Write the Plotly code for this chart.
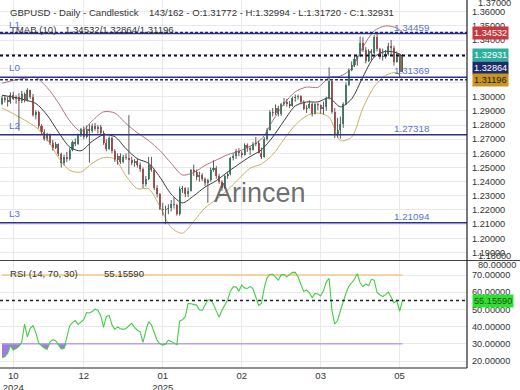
import plotly.graph_objects as go

# ---------------- data ----------------
opens = [1.2950, 1.2990, 1.2975, 1.2960, 1.3015, 1.2985, 1.2995, 1.2970, 1.3020, 1.2975,
         1.3045, 1.3000, 1.2870, 1.2890, 1.2790, 1.2750, 1.2700, 1.2730, 1.2670, 1.2640,
         1.2665, 1.2595, 1.2530, 1.2575, 1.2560, 1.2625, 1.2680, 1.2665, 1.2730, 1.2770,
         1.2715, 1.2775, 1.2760, 1.2795, 1.2770, 1.2785, 1.2745, 1.2675, 1.2630, 1.2705,
         1.2615, 1.2555, 1.2580, 1.2540, 1.2575, 1.2565, 1.2555, 1.2530, 1.2545, 1.2515,
         1.2490, 1.2380, 1.2420, 1.2520, 1.2480, 1.2355, 1.2310, 1.2210, 1.2200, 1.2210,
         1.2215, 1.2240, 1.2235, 1.2170, 1.2350, 1.2355, 1.2310, 1.2335, 1.2480, 1.2470,
         1.2430, 1.2450, 1.2420, 1.2390, 1.2410, 1.2480, 1.2495, 1.2440, 1.2400, 1.2355,
         1.2440, 1.2455, 1.2565, 1.2580, 1.2620, 1.2600, 1.2590, 1.2660, 1.2635, 1.2625,
         1.2665, 1.2675, 1.2605, 1.2575, 1.2700, 1.2765, 1.2890, 1.2885, 1.2920, 1.2875,
         1.2945, 1.2960, 1.2950, 1.2935, 1.2990, 1.3000, 1.3005, 1.2965, 1.2915, 1.2920,
         1.2945, 1.2880, 1.2945, 1.2940, 1.2915, 1.2925, 1.2990, 1.3110, 1.2895, 1.2730,
         1.2765, 1.2810, 1.2945, 1.3085, 1.3190, 1.3225, 1.3265, 1.3285, 1.3380, 1.3330,
         1.3255, 1.3325, 1.3310, 1.3420, 1.3335, 1.3280, 1.3290, 1.3305, 1.3355, 1.3345,
         1.3245, 1.3300, 1.31772]
highs = [1.3005, 1.3010, 1.3000, 1.3030, 1.3035, 1.3010, 1.3025, 1.3040, 1.3030, 1.3060,
         1.3050, 1.3020, 1.2905, 1.2900, 1.2805, 1.2770, 1.2745, 1.2740, 1.2695, 1.2680,
         1.2670, 1.2605, 1.2590, 1.2610, 1.2640, 1.2690, 1.2705, 1.2740, 1.2780, 1.2790,
         1.2795, 1.2805, 1.2810, 1.2815, 1.2800, 1.2800, 1.2760, 1.2700, 1.2720, 1.2720,
         1.2630, 1.2600, 1.2600, 1.2590, 1.2600, 1.2870, 1.2575, 1.2560, 1.2565, 1.2535,
         1.2500, 1.2440, 1.2575, 1.2575, 1.2490, 1.2375, 1.2320, 1.2250, 1.2230, 1.2240,
         1.2270, 1.2290, 1.2245, 1.2365, 1.2370, 1.2360, 1.2360, 1.2490, 1.2520, 1.2485,
         1.2470, 1.2460, 1.2430, 1.2420, 1.2500, 1.2550, 1.2510, 1.2455, 1.2410, 1.2450,
         1.2470, 1.2575, 1.2600, 1.2630, 1.2635, 1.2615, 1.2670, 1.2670, 1.2650, 1.2680,
         1.2715, 1.2690, 1.2640, 1.2715, 1.2780, 1.2905, 1.2920, 1.2945, 1.2935, 1.2955,
         1.2990, 1.2985, 1.2970, 1.3000, 1.3015, 1.3015, 1.3010, 1.2975, 1.2940, 1.2975,
         1.2960, 1.2955, 1.2955, 1.2945, 1.2965, 1.3000, 1.3207, 1.3115, 1.2920, 1.2850,
         1.2860, 1.2960, 1.3100, 1.3200, 1.3250, 1.3295, 1.3290, 1.3425, 1.3420, 1.3350,
         1.3335, 1.3335, 1.3435, 1.3443, 1.3345, 1.3340, 1.3330, 1.3380, 1.3400, 1.3360,
         1.3320, 1.3305, 1.32994]
lows = [1.2940, 1.2960, 1.2930, 1.2950, 1.2975, 1.2950, 1.2760, 1.2955, 1.2960, 1.2965,
        1.2985, 1.2860, 1.2840, 1.2775, 1.2735, 1.2690, 1.2685, 1.2660, 1.2620, 1.2630,
        1.2580, 1.2500, 1.2515, 1.2540, 1.2550, 1.2615, 1.2650, 1.2660, 1.2715, 1.2700,
        1.2705, 1.2535, 1.2745, 1.2760, 1.2740, 1.2730, 1.2660, 1.2615, 1.2625, 1.2600,
        1.2540, 1.2520, 1.2525, 1.2530, 1.2555, 1.2450, 1.2515, 1.2505, 1.2500, 1.2470,
        1.2355, 1.2365, 1.2410, 1.2470, 1.2340, 1.2290, 1.2200, 1.2160, 1.2100, 1.2170,
        1.2190, 1.2210, 1.2160, 1.2160, 1.2320, 1.2290, 1.2290, 1.2330, 1.2440, 1.2410,
        1.2400, 1.2405, 1.2370, 1.2250, 1.2400, 1.2470, 1.2420, 1.2385, 1.2335, 1.2350,
        1.2420, 1.2445, 1.2550, 1.2560, 1.2580, 1.2570, 1.2585, 1.2610, 1.2590, 1.2620,
        1.2650, 1.2600, 1.2560, 1.2570, 1.2690, 1.2760, 1.2860, 1.2870, 1.2860, 1.2865,
        1.2935, 1.2930, 1.2920, 1.2930, 1.2965, 1.2980, 1.2945, 1.2905, 1.2885, 1.2915,
        1.2860, 1.2875, 1.2905, 1.2880, 1.2875, 1.2900, 1.2980, 1.2880, 1.2708, 1.2710,
        1.2705, 1.2780, 1.2940, 1.3075, 1.3180, 1.3210, 1.3220, 1.3280, 1.3315, 1.3235,
        1.3245, 1.3260, 1.3300, 1.3320, 1.3265, 1.3255, 1.3270, 1.3290, 1.3295, 1.3220,
        1.3240, 1.31369, 1.31720]
closes = [1.2990, 1.2975, 1.2960, 1.3015, 1.2985, 1.2995, 1.2970, 1.3020, 1.2975, 1.3045,
          1.3000, 1.2870, 1.2890, 1.2790, 1.2750, 1.2700, 1.2730, 1.2670, 1.2640, 1.2665,
          1.2595, 1.2530, 1.2575, 1.2560, 1.2625, 1.2680, 1.2665, 1.2730, 1.2770, 1.2715,
          1.2775, 1.2760, 1.2795, 1.2770, 1.2785, 1.2745, 1.2675, 1.2630, 1.2705, 1.2615,
          1.2555, 1.2580, 1.2540, 1.2575, 1.2565, 1.2555, 1.2530, 1.2545, 1.2515, 1.2490,
          1.2380, 1.2420, 1.2520, 1.2480, 1.2355, 1.2310, 1.2210, 1.2200, 1.2210, 1.2215,
          1.2240, 1.2235, 1.2170, 1.2350, 1.2355, 1.2310, 1.2335, 1.2480, 1.2470, 1.2430,
          1.2450, 1.2420, 1.2390, 1.2410, 1.2480, 1.2495, 1.2440, 1.2400, 1.2355, 1.2440,
          1.2455, 1.2565, 1.2580, 1.2620, 1.2600, 1.2590, 1.2660, 1.2635, 1.2625, 1.2665,
          1.2675, 1.2605, 1.2575, 1.2700, 1.2765, 1.2890, 1.2885, 1.2920, 1.2875, 1.2945,
          1.2960, 1.2950, 1.2935, 1.2990, 1.3000, 1.3005, 1.2965, 1.2915, 1.2920, 1.2945,
          1.2880, 1.2945, 1.2940, 1.2915, 1.2925, 1.2990, 1.3110, 1.2895, 1.2730, 1.2765,
          1.2810, 1.2945, 1.3085, 1.3190, 1.3225, 1.3265, 1.3285, 1.3380, 1.3330, 1.3255,
          1.3325, 1.3310, 1.3420, 1.3335, 1.3280, 1.3290, 1.3305, 1.3355, 1.3345, 1.3245,
          1.3300, 1.31772, 1.32931]

# TMA bands (10) read at every 4th bar
band_bars = [0, 4, 8, 12, 16, 20, 24, 28, 32, 36, 40, 44, 48, 52, 56, 60, 64, 68, 72,
             76, 80, 84, 88, 92, 96, 100, 104, 108, 112, 116, 120, 124, 128, 132, 136, 140, 142]
band_upper = [1.3095, 1.3115, 1.3130, 1.3135, 1.3065, 1.2957, 1.2830, 1.2755, 1.2830, 1.2893,
              1.2885, 1.2810, 1.2745, 1.2690, 1.2620, 1.2530, 1.2447, 1.2465, 1.2515,
              1.2553, 1.2590, 1.2615, 1.2650, 1.2700, 1.2830, 1.2950, 1.3035, 1.3068, 1.3066,
              1.3135, 1.3145, 1.3200, 1.3350, 1.3465, 1.3500, 1.3485, 1.34532]
band_mid = [1.3010, 1.2997, 1.2978, 1.2952, 1.2870, 1.2750, 1.2645, 1.2618, 1.2685, 1.2731,
            1.2718, 1.2632, 1.2562, 1.2530, 1.2432, 1.2312, 1.2250, 1.2300, 1.2362,
            1.2407, 1.2468, 1.2524, 1.2577, 1.2625, 1.2715, 1.2830, 1.2935, 1.2963, 1.2963,
            1.2992, 1.2928, 1.2985, 1.3140, 1.3280, 1.3320, 1.3310, 1.32864]
band_lower = [1.2920, 1.2880, 1.2835, 1.2785, 1.2700, 1.2570, 1.2480, 1.2468, 1.2530, 1.2570,
              1.2560, 1.2440, 1.2350, 1.2350, 1.2225, 1.2075, 1.2036, 1.2120, 1.2215,
              1.2275, 1.2340, 1.2420, 1.2495, 1.2525, 1.2590, 1.2700, 1.2800, 1.2865, 1.2885,
              1.2855, 1.2690, 1.2715, 1.2920, 1.3070, 1.3150, 1.3170, 1.31196]

rsi = [22.0, 22.5, 24.5, 29.0, 26.4, 27.2, 28.5, 31.0, 41.5, 34.0,
       39.0, 40.5, 36.5, 30.5, 29.0, 27.5, 26.8, 31.0, 32.4, 31.8,
       29.5, 27.0, 27.2, 34.0, 40.5, 42.3, 43.5, 41.2, 42.5, 44.0,
       48.2, 47.9, 48.8, 50.2, 49.5, 46.5, 39.6, 45.8, 46.6, 41.0,
       38.4, 39.8, 38.8, 38.4, 38.9, 40.2, 41.9, 39.5, 37.9, 37.0,
       30.8, 37.5, 42.8, 41.0, 36.5, 32.0, 30.0, 29.2, 29.8, 32.1,
       31.4, 30.3, 29.5, 43.2, 44.0, 45.8, 53.5, 53.3, 52.8, 52.5,
       49.8, 49.4, 52.5, 55.5, 55.6, 53.0, 49.0, 45.6, 49.5, 53.0,
       55.5, 60.6, 63.1, 63.2, 60.5, 64.2, 62.5, 62.2, 63.4, 62.0,
       57.5, 52.4, 53.5, 62.5, 68.5, 70.3, 70.4, 68.5, 67.0, 70.2,
       70.2, 68.9, 70.3, 71.5, 71.5, 69.0, 64.5, 60.5, 61.2, 59.6,
       56.8, 59.3, 58.9, 57.8, 60.8, 66.0, 68.0, 49.5, 41.5, 43.5,
       49.2, 54.8, 59.5, 63.5, 65.2, 67.5, 70.8, 65.5, 63.2, 64.8,
       63.8, 67.5, 67.0, 59.8, 58.5, 57.5, 58.6, 60.0, 57.0, 53.8,
       55.3, 48.8, 55.1559]

levels = {"L1": 1.34459, "L0": 1.31369, "L2": 1.27318, "L3": 1.21094}
tma_upper, tma_mid, tma_lower = 1.34532, 1.32864, 1.31196
last_close = 1.32931
rsi_last = 55.15590
rsi_high, rsi_low = 70, 30

tick_bars = [4, 29, 57, 85, 113, 141]
tick_labels = ["10<br>2024", "12", "01<br>2025", "02", "03", "05"]
price_ticks = [1.19, 1.20, 1.21, 1.22, 1.23, 1.24, 1.25, 1.26, 1.27, 1.28, 1.29,
               1.30, 1.31, 1.32, 1.33, 1.34, 1.35, 1.36]
rsi_ticks = [20, 30, 40, 50, 60, 70]

# ---------------- styling ----------------
W, H = 520, 390
FONT = "Liberation Sans, Arial, sans-serif"
TXT = "#333333"
GRID = "#e9e9e9"
UP, DOWN, WICK = "#2f9e72", "#d94a4a", "#5a5a5a"
LEVEL_LINE, LEVEL_TXT = "#2d2f8a", "#5a73cc"
px_x = lambda p: p / W
px_y = lambda p: 1 - p / H

n = len(closes)
bars = list(range(n))

fig = go.Figure()

# bands
for vals, col in ((band_upper, "#b07384"), (band_lower, "#c9b35e"), (band_mid, "#3a3a3a")):
    fig.add_trace(go.Scatter(x=band_bars, y=vals, mode="lines",
                             line=dict(color=col, width=1, shape="spline", smoothing=0.8),
                             hoverinfo="skip", xaxis="x", yaxis="y"))

# wicks
wx, wy = [], []
for i in bars:
    wx += [i, i, None]
    wy += [lows[i], highs[i], None]
fig.add_trace(go.Scatter(x=wx, y=wy, mode="lines", line=dict(color=WICK, width=1),
                         hoverinfo="skip", xaxis="x", yaxis="y"))

# bodies
body_base = [min(o, c) for o, c in zip(opens, closes)]
body_h = [max(abs(c - o), 0.0004) for o, c in zip(opens, closes)]
body_col = [UP if c >= o else DOWN for o, c in zip(opens, closes)]
fig.add_trace(go.Bar(x=bars, y=body_h, base=body_base, width=0.72,
                     marker=dict(color=body_col, line=dict(width=0)),
                     xaxis="x", yaxis="y", hoverinfo="skip"))

# RSI panel
low_line = [rsi_low] * n
high_line = [rsi_high] * n
fig.add_trace(go.Scatter(x=bars, y=high_line, mode="lines", line=dict(color="#f3c98c", width=1.5),
                         xaxis="x2", yaxis="y2", hoverinfo="skip"))
fig.add_trace(go.Scatter(x=bars, y=[max(v, rsi_high) for v in rsi], mode="lines",
                         line=dict(width=0), fill="tonexty", fillcolor="rgba(245,200,80,0.55)",
                         xaxis="x2", yaxis="y2", hoverinfo="skip"))
fig.add_trace(go.Scatter(x=bars, y=low_line, mode="lines", line=dict(color="#b9a3e6", width=1.5),
                         xaxis="x2", yaxis="y2", hoverinfo="skip"))
fig.add_trace(go.Scatter(x=bars, y=[min(v, rsi_low) for v in rsi], mode="lines",
                         line=dict(width=0), fill="tonexty", fillcolor="rgba(140,100,225,0.85)",
                         xaxis="x2", yaxis="y2", hoverinfo="skip"))
fig.add_trace(go.Scatter(x=bars, y=rsi, mode="lines", line=dict(color="#45cc45", width=1.1),
                         xaxis="x2", yaxis="y2", hoverinfo="skip"))

shapes = []
# level lines
for name, v in levels.items():
    shapes.append(dict(type="line", xref="x domain", yref="y", x0=0, x1=1, y0=v, y1=v,
                       line=dict(color=LEVEL_LINE, width=1.5)))
for v in (tma_upper, tma_lower):
    shapes.append(dict(type="line", xref="x domain", yref="y", x0=0, x1=1, y0=v, y1=v,
                       line=dict(color="#1f2a6e", width=1.5, dash="3px,2px")))
shapes.append(dict(type="line", xref="x domain", yref="y", x0=0, x1=1, y0=tma_mid, y1=tma_mid,
                   line=dict(color="#1f2a6e", width=1, dash="3px,3px")))
shapes.append(dict(type="line", xref="x domain", yref="y", x0=0, x1=1, y0=last_close, y1=last_close,
                   line=dict(color="#111111", width=1.6, dash="3px,3px")))
shapes.append(dict(type="line", xref="x2 domain", yref="y2", x0=0, x1=1, y0=rsi_last, y1=rsi_last,
                   line=dict(color="#222222", width=1.4, dash="3px,3px")))
# frame lines
shapes.append(dict(type="line", xref="paper", yref="paper", x0=0, x1=1, y0=px_y(260.5), y1=px_y(260.5),
                   line=dict(color="#444444", width=1)))
shapes.append(dict(type="line", xref="paper", yref="paper", x0=0, x1=px_x(467), y0=px_y(368), y1=px_y(368),
                   line=dict(color="#222222", width=1.2)))
shapes.append(dict(type="line", xref="paper", yref="paper", x0=px_x(467), x1=px_x(467), y0=px_y(368), y1=1,
                   line=dict(color="#222222", width=1.2)))

ann = []
def text(t, x, y, size=9.6, color=TXT, **kw):
    ann.append(dict(text=t, x=px_x(x), y=px_y(y), xref="paper", yref="paper", xanchor="left",
                    yanchor="middle", showarrow=False, font=dict(family=FONT, size=size, color=color), **kw))

text("GBPUSD - Daily - Candlestick", 8, 12)
text("%d/%d - O:%.5f - H:%.5f - L:%.5f - C:%.5f" % (n, 162, opens[-1], highs[-1], lows[-1], closes[-1]), 147, 12)
text("TMAB (10)", 8, 30)
text("%.5f/%.5f/%.5f" % (tma_upper, tma_mid, tma_lower), 63, 30)
text("RSI (14, %d, %d)" % (rsi_high, rsi_low), 8, 273)
text("%.5f" % rsi_last, 102, 273)

for name, v in levels.items():
    ann.append(dict(text=name, x=px_x(7), y=v, xref="paper", yref="y", xanchor="left", yanchor="middle",
                    yshift=9.5, showarrow=False, font=dict(family=FONT, size=9.8, color=LEVEL_TXT)))
    ann.append(dict(text="%.5f" % v, x=px_x(392), y=v, xref="paper", yref="y", xanchor="left",
                    yanchor="middle", yshift=6.5, showarrow=False,
                    font=dict(family=FONT, size=9.8, color=LEVEL_TXT)))

def box(t, v, bg, fg, yref="y", yshift=0):
    ann.append(dict(text=t, x=px_x(472), y=v, xref="paper", yref=yref, xanchor="left", yanchor="middle",
                    yshift=yshift, showarrow=False, bgcolor=bg, borderpad=1,
                    font=dict(family=FONT, size=9.2, color=fg)))

box("%.5f" % tma_upper, tma_upper, "#c5383d", "#ffffff")
box("%.5f" % last_close, last_close, "#2bb09c", "#ffffff")
box("%.5f" % tma_mid, tma_mid, "#1f2a6b", "#ffffff", yshift=-11.5)
box("%.5f" % tma_lower, tma_lower, "#c8961f", "#1a1a1a")
box("%.5f" % rsi_last, rsi_last, "#30e030", "#1f4f1f", yref="y2")

# edge labels of the value axes
text("1.37000", 475.5, 3.5, size=9.2)
text("1.18000", 475.5, 256, size=9.2)
text("80.00000", 475.5, 265, size=9.2)

# watermark
ann.append(dict(text="Arincen", x=px_x(260), y=px_y(193), xref="paper", yref="paper",
                xanchor="center", yanchor="middle", showarrow=False,
                font=dict(family=FONT, size=27, color="rgba(85,85,85,0.85)")))

xr = [-0.71, 164.9]
axis_common = dict(showline=False, zeroline=False, gridcolor=GRID, gridwidth=1, automargin=False)
fig.update_layout(
    width=W, height=H, margin=dict(l=0, r=0, t=0, b=0, pad=0),
    paper_bgcolor="white", plot_bgcolor="white", showlegend=False, hovermode=False,
    bargap=0, shapes=shapes, annotations=ann,
    xaxis=dict(domain=[0, px_x(467)], range=xr, anchor="y", tickvals=tick_bars,
               showticklabels=False, showgrid=True, ticks="", **axis_common),
    xaxis2=dict(domain=[0, px_x(467)], range=xr, anchor="y2", matches="x", tickvals=tick_bars,
                ticktext=tick_labels, showgrid=True, ticks="",
                tickfont=dict(family=FONT, size=9.5, color=TXT), **axis_common),
    yaxis=dict(domain=[px_y(260), 1], range=[1.18467, 1.36829], side="right", anchor="x",
               tickvals=price_ticks, tickformat=".5f", showgrid=True, ticks="", ticklabelstandoff=4,
               tickfont=dict(family=FONT, size=9.2, color=TXT), **axis_common),
    yaxis2=dict(domain=[px_y(368), px_y(261)], range=[15.93, 78.14], side="right", anchor="x2",
                tickvals=rsi_ticks, tickformat=".5f", showgrid=True, ticks="", ticklabelstandoff=4,
                tickfont=dict(family=FONT, size=9.2, color=TXT), **axis_common),
)

fig.write_html("out.html", config={"displayModeBar": False, "staticPlot": True},
               post_script="document.body.style.margin='0px';document.body.style.overflow='hidden';")
